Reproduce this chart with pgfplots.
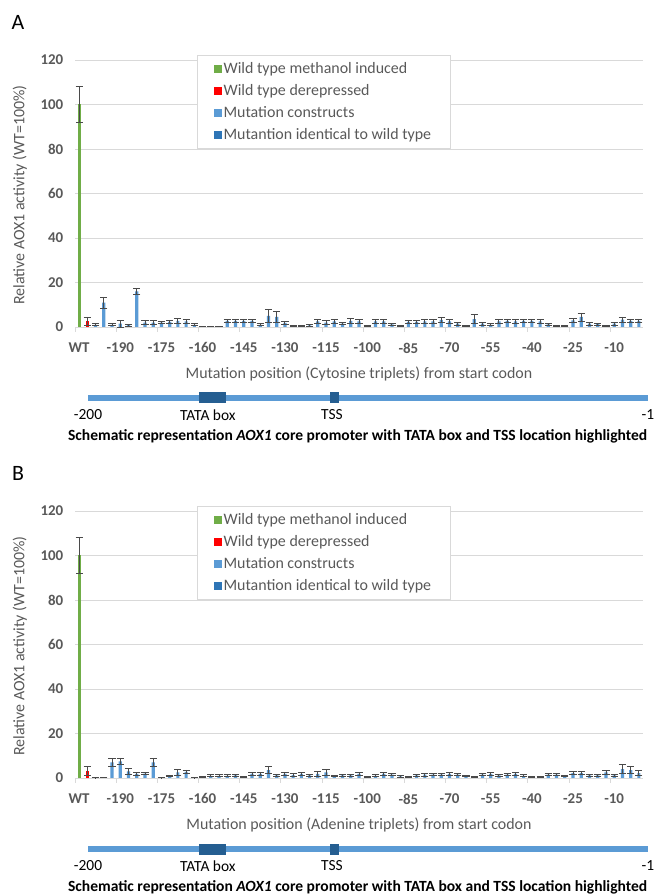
\documentclass[border=0pt]{standalone}
\usepackage{pgfplots}
\pgfplotsset{compat=1.18}
\usepackage{pgfplotstable}
\usepackage{fontspec}
\setmainfont{Carlito}

\definecolor{wtgreen}{HTML}{70AD47}
\definecolor{wtred}{HTML}{FF0000}
\definecolor{mutblue}{HTML}{5B9BD5}
\definecolor{idblue}{HTML}{2E75B6}
\definecolor{boxblue}{HTML}{255E91}
\definecolor{txtgray}{HTML}{595959}
\definecolor{gridgray}{HTML}{D9D9D9}
\definecolor{errgray}{HTML}{4A4A4A}

% WT rows: i value error
\pgfplotstableread{
i v e
0 100 8
}\wtind
\pgfplotstableread{
i v e
1 2.5 2
}\wtderA
\pgfplotstableread{
i v e
1 3.0 2
}\wtderB

% Panel A: cytosine triplets, index 2 = -199 ... index 68 = -1
\pgfplotstableread{
i v e
2 1.0 0.5
3 11.0 2.5
4 1.0 0.5
5 1.5 1.5
6 0.8 0.5
7 16.0 1.2
8 2.0 0.8
9 2.0 0.8
10 2.0 0.5
11 2.3 0.8
12 2.8 1.0
13 2.5 0.8
14 1.0 0.5
15 0.3 0.1
16 0.3 0.1
17 0.3 0.1
18 2.7 0.8
19 2.8 0.8
20 2.8 0.8
21 2.7 0.8
22 1.0 0.5
23 5.0 3.0
24 4.5 2.5
25 1.8 0.8
26 0.5 0.2
27 0.6 0.2
28 0.7 0.3
29 2.5 1.0
30 2.0 1.0
31 2.5 0.8
32 1.5 0.5
33 2.8 1.0
34 2.5 1.0
35 0.6 0.2
36 2.5 0.8
37 2.5 0.8
38 1.2 0.5
39 0.4 0.2
40 2.3 0.8
41 2.3 0.8
42 2.5 0.8
43 2.5 0.8
44 3.2 1.3
45 2.5 1.0
46 1.5 0.7
47 0.6 0.2
48 3.5 2.0
49 1.5 0.7
50 1.0 0.4
51 2.5 0.8
52 2.8 0.8
53 2.5 0.8
54 2.8 0.8
55 2.8 0.8
56 2.5 0.8
57 1.2 0.5
58 0.5 0.2
59 0.4 0.2
60 3.0 1.0
61 4.5 1.8
62 1.5 0.6
63 1.3 0.5
64 0.5 0.2
65 1.5 0.6
66 3.3 1.2
67 2.8 0.8
68 2.8 0.8
}\mutA

% Panel B: adenine triplets
\pgfplotstableread{
i v e
2 0.2 0.1
3 0.3 0.1
4 7.0 1.8
5 7.5 1.5
6 3.0 1.2
7 1.8 0.5
8 2.0 0.5
9 7.0 2.0
10 0.1 0.05
11 0.8 0.3
12 2.5 1.3
13 2.8 0.8
14 0.2 0.1
15 0.5 0.2
16 1.0 0.5
17 1.0 0.5
18 1.0 0.5
19 1.2 0.5
20 0.4 0.2
21 1.8 0.7
22 1.8 0.6
23 3.5 1.5
24 1.2 0.6
25 1.8 0.6
26 1.3 0.6
27 1.8 0.6
28 1.2 0.5
29 1.8 1.0
30 2.5 1.3
31 0.8 0.3
32 1.2 0.5
33 1.2 0.5
34 1.8 0.5
35 0.5 0.2
36 1.0 0.4
37 1.8 0.5
38 1.5 0.5
39 0.7 0.3
40 0.5 0.2
41 1.2 0.5
42 1.5 0.6
43 1.5 0.5
44 1.5 0.5
45 1.8 0.5
46 1.5 0.5
47 0.8 0.3
48 0.5 0.2
49 1.5 0.5
50 1.8 0.5
51 1.2 0.5
52 1.5 0.5
53 1.8 0.5
54 1.0 0.4
55 0.6 0.2
56 0.4 0.2
57 1.5 0.5
58 1.5 0.5
59 0.8 0.3
60 2.2 0.6
61 2.2 0.6
62 1.2 0.5
63 1.2 0.5
64 2.5 0.8
65 1.2 0.5
66 4.0 2.0
67 3.5 1.5
68 2.2 1.0
}\mutB

\pgfplotsset{
  mainax/.style={
    scale only axis, width=568bp, height=267bp, anchor=south west,
    clip=false,
    xmin=-0.5, xmax=68.5, ymin=0, ymax=120,
    axis x line*=bottom, axis y line*=left,
    y axis line style={draw=none},
    x axis line style={draw=gridgray, line width=0.8bp},
    ytick={0,20,...,120},
    ymajorgrids, major grid style={draw=gridgray, line width=0.8bp},
    ytick style={draw=none},
    xtick={0,5,...,65},
    xticklabels={WT,-190,-175,-160,-145,-130,-115,-100,-85,-70,-55,-40,-25,-10},
    major x tick style={draw=none},
    minor xtick={-0.5,4.5,...,64.5},
    minor x tick style={draw=gridgray, line width=0.8bp},
    minor tick length=5bp, tick align=outside,
    /pgf/number format/assume math mode=true,
    xticklabel style={font=\fontsize{15}{18}\selectfont\bfseries, text=txtgray, anchor=north, yshift=-8bp},
    yticklabel style={font=\fontsize{15}{18}\selectfont\bfseries, text=txtgray, anchor=east, xshift=-4bp},
    xlabel style={at={(axis description cs:0.5,-0.176)}, anchor=center, font=\fontsize{16}{19}\selectfont, text=txtgray},
    ylabel style={at={(axis description cs:-0.097,0.494)}, anchor=center, font=\fontsize{16}{19}\selectfont, text=txtgray},
    ylabel={Relative AOX1 activity (WT=100\%)},
    legend style={at={(axis description cs:0.2148,1.0187)}, anchor=north west,
      draw=gridgray, fill=white, font=\fontsize{16}{19}\selectfont, text=txtgray,
      row sep=5.5bp, inner xsep=17bp, inner ysep=5bp},
    legend cell align=left,
  },
  barplot/.style={ybar, bar width=3.2bp, bar shift=0pt, draw=none, fill=#1,
    error bars/.cd, y dir=both, y explicit,
    error bar style={draw=errgray, line width=0.9bp},
    error mark options={draw=errgray, rotate=90, mark size=3.6bp, line width=0.9bp},
    /pgfplots/.cd},
  schemax/.style={
    scale only axis, width=560bp, height=10bp, anchor=south west,
    clip=false, xmin=-200, xmax=-1, ymin=0, ymax=1,
    axis line style={draw=none}, ytick=\empty,
    xtick={-200,-157.4,-113.3,-1}, xticklabels={-200,TATA box,TSS,-1},
    major tick length=0pt,
    xticklabel style={font=\fontsize{15.5}{18}\selectfont, text=black, anchor=north, yshift=-3bp},
    xlabel={\bfseries Schematic representation \textit{AOX1} core promoter with TATA box and TSS location highlighted},
    xlabel style={at={(axis description cs:0.4815,-3.3)}, anchor=center, font=\fontsize{15.6}{19}\selectfont, text=black},
  },
  legimg/.style={legend image code/.code={\fill[#1] (0bp,-3.5bp) rectangle (7bp,3.5bp);}},
}

\begin{document}
\begin{tikzpicture}
\path[use as bounding box] (0bp,0bp) rectangle (659bp,896bp);

% ---------------- Panel A ----------------
\begin{axis}[mainax, at={(75bp,569bp)},
  xlabel={Mutation position (Cytosine triplets) from start codon}]
\addlegendimage{legimg=wtgreen}\addlegendentry{Wild type methanol induced}
\addlegendimage{legimg=wtred}\addlegendentry{Wild type derepressed}
\addlegendimage{legimg=mutblue}\addlegendentry{Mutation constructs}
\addlegendimage{legimg=idblue}\addlegendentry{Mutantion identical to wild type}
\addplot[forget plot, barplot=wtgreen] table[x=i, y=v, y error=e] {\wtind};
\addplot[forget plot, barplot=wtred] table[x=i, y=v, y error=e] {\wtderA};
\addplot[forget plot, barplot=mutblue] table[x=i, y=v, y error=e] {\mutA};
\node[font=\fontsize{22}{26}\selectfont, text=black] at (axis description cs:-0.1004,1.142) {A};
\end{axis}

\begin{axis}[schemax, at={(88bp,493bp)}]
\addplot[mutblue, line width=6.5bp, mark=none] coordinates {(-200,0.5) (-1,0.5)};
\addplot[boxblue, line width=11bp, mark=none] coordinates {(-160.6,0.5) (-151,0.5)};
\addplot[boxblue, line width=11bp, mark=none] coordinates {(-114,0.5) (-110.8,0.5)};
\end{axis}

% ---------------- Panel B ----------------
\begin{axis}[mainax, at={(75bp,118bp)},
  xlabel={Mutation position (Adenine triplets) from start codon}]
\addlegendimage{legimg=wtgreen}\addlegendentry{Wild type methanol induced}
\addlegendimage{legimg=wtred}\addlegendentry{Wild type derepressed}
\addlegendimage{legimg=mutblue}\addlegendentry{Mutation constructs}
\addlegendimage{legimg=idblue}\addlegendentry{Mutantion identical to wild type}
\addplot[forget plot, barplot=wtgreen] table[x=i, y=v, y error=e] {\wtind};
\addplot[forget plot, barplot=wtred] table[x=i, y=v, y error=e] {\wtderB};
\addplot[forget plot, barplot=mutblue] table[x=i, y=v, y error=e] {\mutB};
\node[font=\fontsize{22}{26}\selectfont, text=black] at (axis description cs:-0.1004,1.142) {B};
\end{axis}

\begin{axis}[schemax, at={(88bp,42bp)}]
\addplot[mutblue, line width=6.5bp, mark=none] coordinates {(-200,0.5) (-1,0.5)};
\addplot[boxblue, line width=11bp, mark=none] coordinates {(-160.6,0.5) (-151,0.5)};
\addplot[boxblue, line width=11bp, mark=none] coordinates {(-114,0.5) (-110.8,0.5)};
\end{axis}
\end{tikzpicture}
\end{document}
